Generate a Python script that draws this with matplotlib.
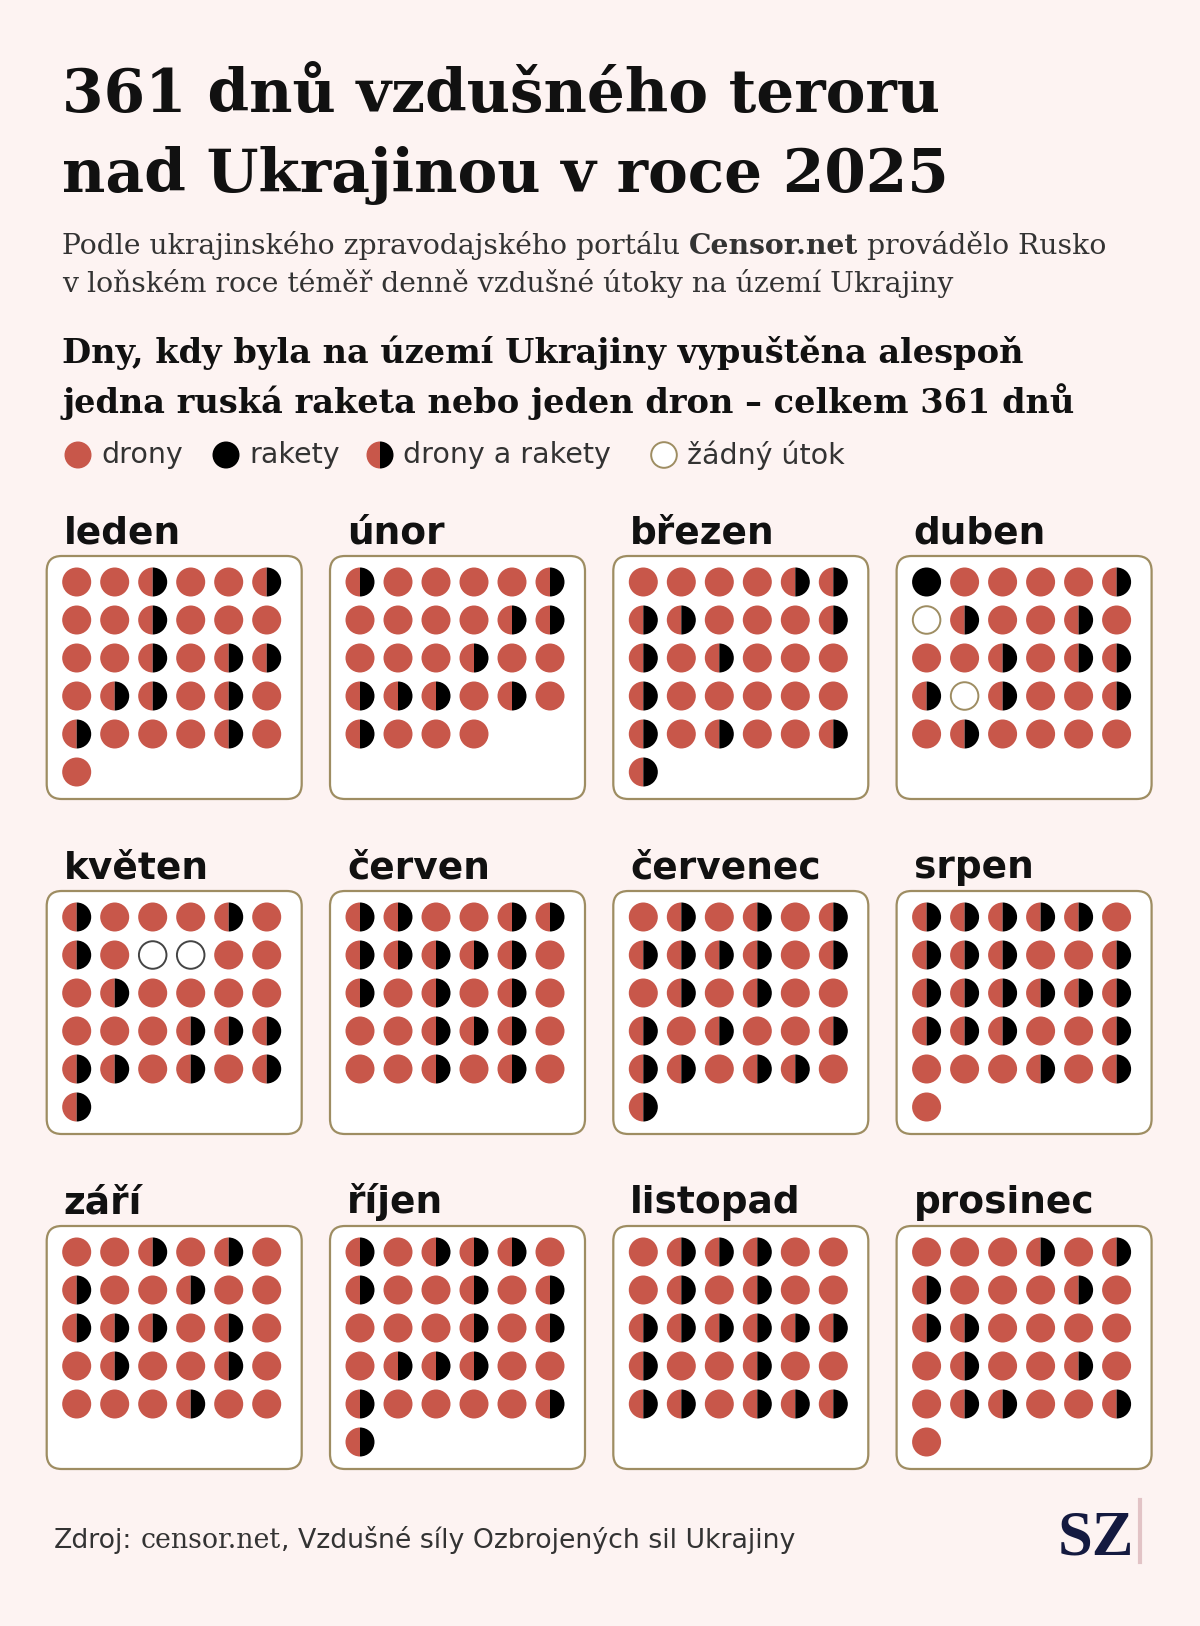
import matplotlib.pyplot as plt
from matplotlib.patches import Circle, Wedge, FancyBboxPatch

# D = drony, R = rakety, B = drony a rakety, N = zadny utok
months = ['leden', 'únor', 'březen', 'duben', 'květen', 'červen',
          'červenec', 'srpen', 'září', 'říjen', 'listopad', 'prosinec']

leden = 'DDBDDB' 'DDBDDD' 'DDBDBB' 'DBBDBD' 'BDDDBD' 'D'
unor = 'BDDDDB' 'DDDDBB' 'DDDBDD' 'BBBDBD' 'BDDD'
brezen = 'DDDDBB' 'BBDDDB' 'BDBDDD' 'BDDDDD' 'BDBDDB' 'B'
duben = 'RDDDDB' 'NBDDBD' 'DDBDBB' 'BNBDDB' 'DBDDDD'
kveten = 'BDDDBD' 'BDNNDD' 'DBDDDD' 'DDDBBB' 'BBDBDB' 'B'
cerven = 'BBDDBB' 'BBBBBD' 'BDBDBD' 'DDBBBD' 'DDBDBD'
cervenec = 'DBDBDB' 'BBBBDB' 'DBDBDD' 'BDBDDB' 'BBDBBD' 'B'
srpen = 'BBBBBD' 'BBBDDB' 'BBBBBB' 'BBBDDB' 'DDDBDB' 'D'
zari = 'DDBDBD' 'BDDBDD' 'BBBDBD' 'DBDDBD' 'DDDBDD'
rijen = 'BDBBBD' 'BDDBDB' 'DDDBDB' 'DBBBDD' 'BDDDDB' 'B'
listopad = 'DBBBDD' 'DBDBDD' 'BBBBBB' 'BDDBDD' 'BBDBBB'
prosinec = 'DDDBDB' 'BDDDBD' 'BBDDDD' 'DBDDBD' 'DBBDDB' 'D'

days = [leden, unor, brezen, duben, kveten, cerven,
        cervenec, srpen, zari, rijen, listopad, prosinec]

legend_labels = ['drony', 'rakety', 'drony a rakety', 'žádný útok']
legend_codes = ['D', 'R', 'B', 'N']

BG = '#fdf3f2'
RED = '#c8574a'
BLACK = '#000000'
KHAKI = '#9e8d62'
W, H = 1200, 1626

fig = plt.figure(figsize=(W / 100, H / 100), dpi=100, facecolor=BG)
ax0 = fig.add_axes([0, 0, 1, 1])
ax0.set_xlim(0, W)
ax0.set_ylim(H, 0)
ax0.axis('off')
renderer = fig.canvas.get_renderer()


def draw_day(ax, x, y, code, r, edge=KHAKI):
    if code == 'D':
        ax.add_patch(Circle((x, y), r, fc=RED, ec='none'))
    elif code == 'R':
        ax.add_patch(Circle((x, y), r, fc=BLACK, ec='none'))
    elif code == 'B':
        ax.add_patch(Wedge((x, y), r, 90, 270, fc=RED, ec='none'))
        ax.add_patch(Wedge((x, y), r, 270, 90, fc=BLACK, ec='none'))
    else:
        ax.add_patch(Circle((x, y), r * 0.95, fc='white', ec=edge, lw=1.4))


def fit(t, width):
    w = t.get_window_extent(renderer).width
    t.set_fontsize(t.get_fontsize() * width / w)
    return t.get_fontsize()


def rich_line(x, y, parts, size, color):
    texts = []
    cx = x
    for s, kw in parts:
        if s == ' ':
            a = ax0.text(0, 0, 'x x', fontsize=size, **kw)
            b = ax0.text(0, 0, 'xx', fontsize=size, **kw)
            cx += a.get_window_extent(renderer).width - b.get_window_extent(renderer).width
            a.remove()
            b.remove()
            continue
        t = ax0.text(cx, y, s, fontsize=size, color=color, va='baseline', **kw)
        texts.append(t)
        cx += t.get_window_extent(renderer).width
    return texts, cx - x


serif = dict(family='DejaVu Serif')
serif_b = dict(family='DejaVu Serif', fontweight='bold')
sans = dict(family='DejaVu Sans')

# title
t1 = ax0.text(62, 112, '361 dnů vzdušného teroru', va='baseline', fontsize=40,
              color='#111111', **serif_b)
size = fit(t1, 877)
ax0.text(62, 192, 'nad Ukrajinou v roce 2025', va='baseline', fontsize=size,
         color='#111111', **serif_b)

# subtitle
sub1 = [('Podle ukrajinského zpravodajského portálu', serif), (' ', serif),
        ('Censor.net', serif_b), (' ', serif), ('provádělo Rusko', serif)]
texts, w = rich_line(62, 254, sub1, 19, '#333333')
for t in texts:
    t.remove()
sub_size = 19 * 1048 / w
rich_line(62, 254, sub1, sub_size, '#333333')
ax0.text(62, 292, 'v loňském roce téměř denně vzdušné útoky na území Ukrajiny',
         va='baseline', fontsize=sub_size, color='#333333', **serif)

# chart title
c1 = ax0.text(62, 363, 'Dny, kdy byla na území Ukrajiny vypuštěna alespoň',
              va='baseline', fontsize=22, color='#111111', **serif_b)
csize = fit(c1, 960)
ax0.text(62, 413, 'jedna ruská raketa nebo jeden dron – celkem 361 dnů',
         va='baseline', fontsize=csize, color='#111111', **serif_b)

# legend
leg_x = [78, 226, 380, 664]
for lx, lab, code in zip(leg_x, legend_labels, legend_codes):
    draw_day(ax0, lx, 455, code, 13.5)
    ax0.text(lx + 23, 455, lab, va='center', fontsize=20.5, color='#333333', **sans)

# month panels
S = 38.0
OX, OY = 30.0, 26.0
PW, PH = 255.0, 243.0
R = 14.5 / S
none_edge = {'květen': '#444444'}
for i, (name, seq) in enumerate(zip(months, days)):
    row, col = divmod(i, 4)
    px = 46.7 + col * 283.3
    py = 556 + row * 335
    ax = fig.add_axes([px / W, 1 - (py + PH) / H, PW / W, PH / H])
    ax.set_xlim(-OX / S, (PW - OX) / S)
    ax.set_ylim((PH - OY) / S, -OY / S)
    ax.axis('off')
    ax.add_patch(FancyBboxPatch((-OX / S, -OY / S), PW / S, PH / S,
                                boxstyle='round,pad=0,rounding_size=%.3f' % (15 / S),
                                fc='white', ec=KHAKI, lw=1.6, clip_on=False))
    for d, code in enumerate(seq):
        r_, c_ = divmod(d, 6)
        draw_day(ax, c_, r_, code, R, none_edge.get(name, KHAKI))
    ax.text(-OX / S + 17 / S, -OY / S - 13 / S, name, va='baseline',
            fontsize=27, fontweight='bold', color='#111111', family='DejaVu Sans')

# footer
rich_line(54, 1548, [('Zdroj:', sans), (' ', sans), ('censor.net', serif),
                     (',', sans), (' ', sans),
                     ('Vzdušné síly Ozbrojených sil Ukrajiny', sans)], 19.3, '#333333')
ax0.text(1058, 1554, 'SZ', va='baseline', fontsize=45, fontweight='bold',
         color='#141a40', family='Liberation Serif')
ax0.plot([1140, 1140], [1500, 1562], color='#e2c3c6', lw=3)

plt.savefig('out.png', dpi=100, facecolor=BG)
